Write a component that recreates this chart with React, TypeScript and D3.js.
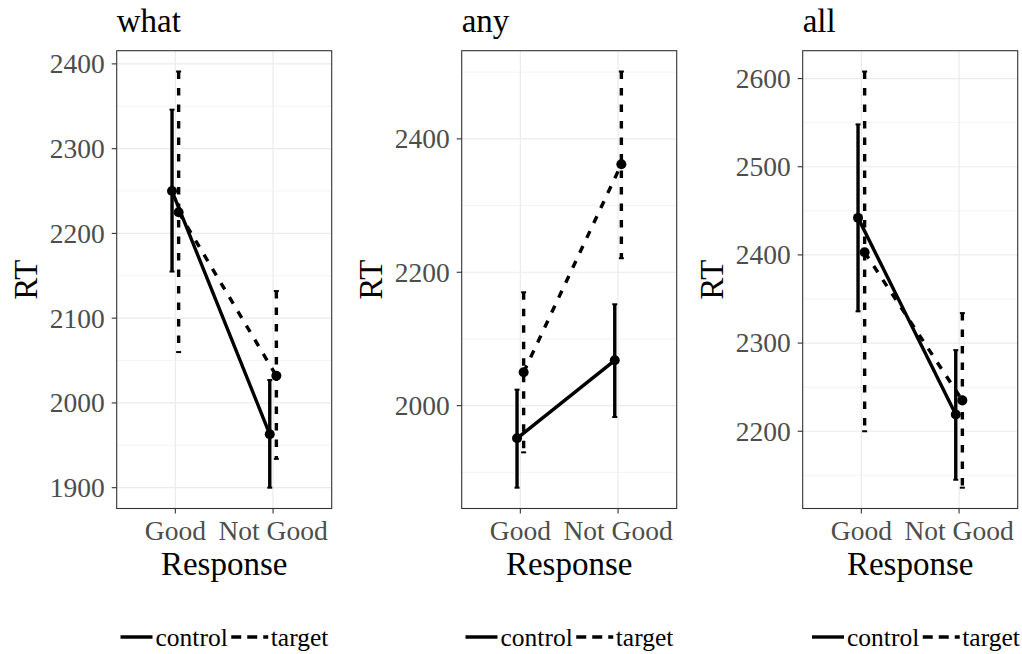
import React, { useRef, useEffect } from "react";
import * as d3 from "d3";

// facet titles, x categories and groups
const panelTitles = ["what", "any", "all"];
const responses = ["Good", "Not Good"];
const groups = ["control", "target"];

// "what" panel: mean RT with lower / upper bounds
const whatControlMean = [2250, 1963];
const whatControlLow = [2155, 1900];
const whatControlHigh = [2346, 2027];
const whatTargetMean = [2225, 2032];
const whatTargetLow = [2060, 1934];
const whatTargetHigh = [2391, 2132];

// "any" panel
const anyControlMean = [1951, 2068];
const anyControlLow = [1877, 1983];
const anyControlHigh = [2024, 2152];
const anyTargetMean = [2050, 2362];
const anyTargetLow = [1930, 2221];
const anyTargetHigh = [2170, 2501];

// "all" panel
const allControlMean = [2442, 2219];
const allControlLow = [2336, 2145];
const allControlHigh = [2548, 2292];
const allTargetMean = [2403, 2235];
const allTargetLow = [2200, 2136];
const allTargetHigh = [2608, 2334];

const panels = [
    {
        control: { mean: whatControlMean, low: whatControlLow, high: whatControlHigh },
        target: { mean: whatTargetMean, low: whatTargetLow, high: whatTargetHigh },
    },
    {
        control: { mean: anyControlMean, low: anyControlLow, high: anyControlHigh },
        target: { mean: anyTargetMean, low: anyTargetLow, high: anyTargetHigh },
    },
    {
        control: { mean: allControlMean, low: allControlLow, high: allControlHigh },
        target: { mean: allTargetMean, low: allTargetLow, high: allTargetHigh },
    },
];

const App = () => {
    const svgRef = useRef<SVGSVGElement>(null);

    useEffect(() => {
        const svg = d3.select(svgRef.current);
        svg.selectAll("*").remove();

        const font = "'Liberation Serif', 'Times New Roman', serif";
        const top = 50.7;
        const bottom = 508.5;
        const plotW = 215;
        const lefts = [116.7, 461.7, 802.7];
        const legendStarts = [120.5, 465.5, 812];
        const dodge: Record<string, number> = { control: -3.3, target: 3.3 };
        const dash = "7.5,9";
        const lw = 3.4;

        panels.forEach((p, i) => {
            const left = lefts[i];
            const g = svg.append("g");

            const x = d3.scalePoint<string>().domain(responses).range([left, left + plotW]).padding(0.6);
            const all = [...p.control.low, ...p.control.high, ...p.target.low, ...p.target.high];
            const lo = d3.min(all) as number;
            const hi = d3.max(all) as number;
            const pad = (hi - lo) * 0.05;
            const y = d3.scaleLinear().domain([lo - pad, hi + pad]).range([bottom, top]);

            const major = y.ticks(4);
            const step = major[1] - major[0];
            const minor = [major[0] - step / 2, ...major.map(t => t + step / 2)]
                .filter(t => t >= y.domain()[0] && t <= y.domain()[1]);

            // panel background + grid
            g.append("rect").attr("x", left).attr("y", top).attr("width", plotW).attr("height", bottom - top).attr("fill", "white");
            g.selectAll(".minor").data(minor).enter().append("line")
                .attr("x1", left).attr("x2", left + plotW)
                .attr("y1", d => y(d)).attr("y2", d => y(d))
                .attr("stroke", "#ebebeb").attr("stroke-width", 0.6);
            g.selectAll(".major").data(major).enter().append("line")
                .attr("x1", left).attr("x2", left + plotW)
                .attr("y1", d => y(d)).attr("y2", d => y(d))
                .attr("stroke", "#ebebeb").attr("stroke-width", 1.2);
            g.selectAll(".vgrid").data(responses).enter().append("line")
                .attr("x1", d => x(d)!).attr("x2", d => x(d)!)
                .attr("y1", top).attr("y2", bottom)
                .attr("stroke", "#ebebeb").attr("stroke-width", 1.2);

            // series
            groups.forEach(grp => {
                const s = (p as any)[grp];
                const dx = dodge[grp];
                const da = grp === "target" ? dash : null;
                const line = d3.line<number>()
                    .x((_, j) => x(responses[j])! + dx)
                    .y(d => y(d));
                g.append("path").datum(s.mean).attr("d", line)
                    .attr("fill", "none").attr("stroke", "black").attr("stroke-width", lw)
                    .attr("stroke-dasharray", da);

                responses.forEach((r, j) => {
                    const cx = x(r)! + dx;
                    g.append("line")
                        .attr("x1", cx).attr("x2", cx)
                        .attr("y1", y(s.high[j])).attr("y2", y(s.low[j]))
                        .attr("stroke", "black").attr("stroke-width", lw)
                        .attr("stroke-dasharray", da);
                    [s.high[j], s.low[j]].forEach(v => {
                        g.append("line")
                            .attr("x1", cx - 2.5).attr("x2", cx + 2.5)
                            .attr("y1", y(v)).attr("y2", y(v))
                            .attr("stroke", "black").attr("stroke-width", 2);
                    });
                    g.append("circle").attr("cx", cx).attr("cy", y(s.mean[j])).attr("r", 5).attr("fill", "black");
                });
            });

            // border
            g.append("rect").attr("x", left).attr("y", top).attr("width", plotW).attr("height", bottom - top)
                .attr("fill", "none").attr("stroke", "#333333").attr("stroke-width", 1.1);

            // y axis
            major.forEach(t => {
                g.append("line").attr("x1", left - 5).attr("x2", left).attr("y1", y(t)).attr("y2", y(t))
                    .attr("stroke", "#333333").attr("stroke-width", 1.1);
                g.append("text").attr("x", left - 12).attr("y", y(t)).attr("dy", "0.34em")
                    .attr("text-anchor", "end").attr("font-family", font).attr("font-size", 27.5)
                    .attr("fill", "#4d4d4d").text(t);
            });
            // x axis
            responses.forEach(r => {
                g.append("line").attr("x1", x(r)!).attr("x2", x(r)!).attr("y1", bottom).attr("y2", bottom + 5)
                    .attr("stroke", "#333333").attr("stroke-width", 1.1);
                g.append("text").attr("x", x(r)!).attr("y", bottom + 31.5)
                    .attr("text-anchor", "middle").attr("font-family", font).attr("font-size", 27.5)
                    .attr("fill", "#4d4d4d").text(r);
            });

            // titles
            g.append("text").attr("x", left + plotW / 2).attr("y", 575).attr("text-anchor", "middle")
                .attr("font-family", font).attr("font-size", 33).text("Response");
            g.append("text").attr("transform", `translate(${left - 80},${(top + bottom) / 2}) rotate(-90)`)
                .attr("text-anchor", "middle").attr("font-family", font).attr("font-size", 33).text("RT");
            g.append("text").attr("x", left).attr("y", 31.7)
                .attr("font-family", font).attr("font-size", 33).text(panelTitles[i]);

            // legend
            const lx = legendStarts[i];
            const ly = 637;
            const lf = 25.5;
            g.append("line").attr("x1", lx).attr("x2", lx + 32).attr("y1", ly).attr("y2", ly)
                .attr("stroke", "black").attr("stroke-width", lw);
            const t1 = g.append("text").attr("x", lx + 35).attr("y", ly).attr("dy", "0.34em")
                .attr("font-family", font).attr("font-size", lf).text(groups[0]);
            const w1 = (t1.node() as SVGTextElement).getComputedTextLength();
            const k2 = lx + 35 + w1 + 3.5;
            g.append("line").attr("x1", k2).attr("x2", k2 + 37).attr("y1", ly).attr("y2", ly)
                .attr("stroke", "black").attr("stroke-width", lw).attr("stroke-dasharray", "10,6");
            g.append("text").attr("x", k2 + 39.5).attr("y", ly).attr("dy", "0.34em")
                .attr("font-family", font).attr("font-size", lf).text(groups[1]);
        });
    }, []);

    return (
        <svg ref={svgRef} width={1022} height={654}
            style={{ position: "absolute", left: 0, top: 0, background: "white" }} />
    );
};

export default App;
